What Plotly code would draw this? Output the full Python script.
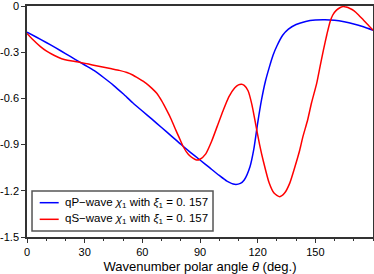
import plotly.graph_objects as go

# qP-wave chi_1 (blue)
qp_theta = [0, 5, 10, 15, 20, 25, 30, 35, 40, 45, 50, 55, 60, 65, 70, 75, 80, 85, 90, 95, 100, 104, 108, 111, 113, 116, 118, 120, 122, 124, 126, 128, 130, 133, 136, 140, 145, 150, 155, 160, 165, 170, 175, 180]
qp_chi = [-0.17, -0.203, -0.237, -0.272, -0.309, -0.346, -0.383, -0.42, -0.466, -0.515, -0.57, -0.628, -0.682, -0.735, -0.789, -0.843, -0.898, -0.95, -1.0, -1.05, -1.1, -1.137, -1.158, -1.152, -1.13, -1.044, -0.93, -0.76, -0.61, -0.49, -0.40, -0.32, -0.26, -0.19, -0.15, -0.12, -0.1, -0.091, -0.089, -0.093, -0.103, -0.117, -0.135, -0.157]

# qS-wave chi_1 (red)
qs_theta = [0, 3, 7, 10, 14, 18, 21, 25, 28.4, 32, 36, 40, 44, 48, 52, 55, 58, 62, 65, 67.5, 70, 72.6, 75, 77, 79, 81.3, 84, 86.5, 88.2, 90, 93, 96, 99, 102, 105, 108, 110, 111.6, 113, 115, 117, 119, 121, 123, 126, 128.5, 131.5, 134, 136.7, 139, 141.9, 143.5, 146, 148, 150.7, 152.5, 154.2, 156, 157.6, 159, 161, 163, 164.5, 166, 168, 170, 172.5, 175, 177.5, 180]
qs_chi = [-0.178, -0.218, -0.264, -0.292, -0.32, -0.342, -0.352, -0.36, -0.368, -0.377, -0.388, -0.398, -0.408, -0.418, -0.432, -0.448, -0.47, -0.502, -0.535, -0.567, -0.615, -0.675, -0.735, -0.794, -0.85, -0.914, -0.965, -0.99, -1.0, -0.995, -0.96, -0.88, -0.78, -0.68, -0.59, -0.532, -0.512, -0.508, -0.515, -0.55, -0.64, -0.77, -0.9, -1.01, -1.15, -1.215, -1.238, -1.215, -1.15, -1.06, -0.935, -0.85, -0.74, -0.63, -0.502, -0.39, -0.286, -0.185, -0.105, -0.06, -0.027, -0.01, -0.004, -0.007, -0.016, -0.03, -0.058, -0.091, -0.123, -0.157]

x_tickvals = [0, 30, 60, 90, 120, 150]
x_ticktext = ["0", "30", "60", "90", "120", "150"]
y_tickvals = [0, -0.3, -0.6, -0.9, -1.2, -1.5]
y_ticktext = ["0", "-0.3", "-0.6", "-0.9", "-1.2", "-1.5"]

series_names = [
    "qP\u2212wave <i>\u03c7</i><sub>1</sub> with <i>\u03be</i><sub>1</sub> = 0. 157",
    "qS\u2212wave <i>\u03c7</i><sub>1</sub> with <i>\u03be</i><sub>1</sub> = 0. 157",
]
series_colors = ["#0000ff", "#ff0000"]

font_family = "Liberation Sans, Arial, Helvetica, sans-serif"

fig = go.Figure()
fig.add_trace(go.Scatter(x=qp_theta, y=qp_chi, mode="lines", name=series_names[0], showlegend=False,
                         line=dict(color=series_colors[0], width=1.5, shape="spline", smoothing=0.6)))
fig.add_trace(go.Scatter(x=qs_theta, y=qs_chi, mode="lines", name=series_names[1], showlegend=False,
                         line=dict(color=series_colors[1], width=1.5, shape="spline", smoothing=0.6)))

axis_common = dict(showgrid=False, zeroline=False, showline=True, linecolor="#333333",
                   linewidth=1.5, mirror=True, ticks="outside", tickcolor="#333333",
                   tickwidth=1, ticklen=4, automargin=False, ticklabeloverflow="allow",
                   tickfont=dict(size=11, color="black", family=font_family))

fig.update_xaxes(range=[0, 180], tickvals=x_tickvals, ticktext=x_ticktext,
                 minor=dict(dtick=10, tick0=0, ticks="outside", ticklen=2.5, tickcolor="#333333", tickwidth=1),
                 title=dict(text="Wavenumber polar angle <i>\u03b8</i> (deg.)",
                            font=dict(size=13, color="black", family=font_family), standoff=5),
                 **axis_common)
fig.update_yaxes(range=[-1.5, 0], tickvals=y_tickvals, ticktext=y_ticktext, **axis_common)

# manual legend box (paper coordinates)
shapes = [dict(type="rect", xref="paper", yref="paper", x0=0.0145, x1=0.5376, y0=0.026, y1=0.199,
               line=dict(color="#555555", width=1.5), fillcolor="white", layer="above")]
annotations = []
legend_rows_y = [0.1485, 0.0766]
for name, color, ry in zip(series_names, series_colors, legend_rows_y):
    shapes.append(dict(type="line", xref="paper", yref="paper", x0=0.0367, x1=0.0916, y0=ry, y1=ry,
                       line=dict(color=color, width=1.5), layer="above"))
    annotations.append(dict(xref="paper", yref="paper", x=0.105, y=ry, xanchor="left", yanchor="middle",
                            text=name, showarrow=False,
                            font=dict(size=11.5, color="black", family=font_family)))

fig.update_layout(
    width=374, height=274,
    margin=dict(l=27, r=1, t=6, b=37),
    plot_bgcolor="white", paper_bgcolor="white",
    font=dict(family=font_family, size=11, color="black"),
    showlegend=False,
    shapes=shapes,
    annotations=annotations,
)

fig.write_html("out.html", config={"displayModeBar": False},
               post_script="document.body.style.margin='0';document.body.style.overflow='hidden';")
